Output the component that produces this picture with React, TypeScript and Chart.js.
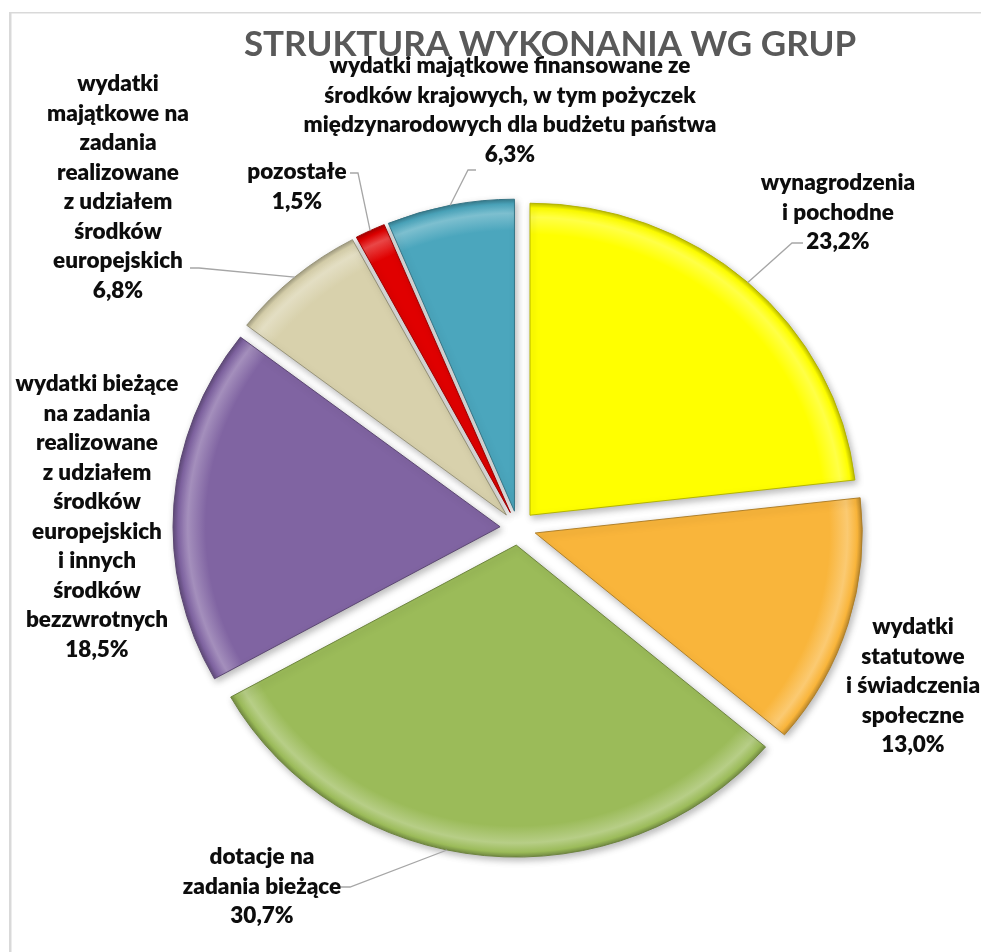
import React, { useEffect, useRef } from 'react';
import { Chart, registerables } from 'chart.js';

Chart.register(...registerables);

// ---------- data ----------
const TITLE = 'STRUKTURA WYKONANIA WG GRUP';

const categories = [
  'wynagrodzenia i pochodne',
  'wydatki statutowe i świadczenia społeczne',
  'dotacje na zadania bieżące',
  'wydatki bieżące na zadania realizowane z udziałem środków europejskich i innych środków bezzwrotnych',
  'wydatki majątkowe na zadania realizowane z udziałem środków europejskich',
  'pozostałe',
  'wydatki majątkowe finansowane ze środków krajowych, w tym pożyczek międzynarodowych dla budżetu państwa',
];

const shares = [23.2, 13.0, 30.7, 18.5, 6.8, 1.5, 6.3];

const labelLines = [
  ['wynagrodzenia', 'i pochodne'],
  ['wydatki', 'statutowe', 'i świadczenia', 'społeczne'],
  ['dotacje na', 'zadania bieżące'],
  ['wydatki bieżące', 'na zadania', 'realizowane', 'z udziałem', 'środków', 'europejskich', 'i innych', 'środków', 'bezzwrotnych'],
  ['wydatki', 'majątkowe na', 'zadania', 'realizowane', 'z udziałem', 'środków', 'europejskich'],
  ['pozostałe'],
  ['wydatki majątkowe finansowane ze', 'środków krajowych, w tym pożyczek', 'międzynarodowych dla budżetu państwa'],
];

// ---------- styles / layout ----------
const sliceColors = ['#FFFF00', '#F9B53B', '#9BBB59', '#8064A2', '#D8D1AC', '#E00000', '#4BA6BD'];

const W = 981;
const H = 952;
const PIE_RADIUS = 327;
const EXPLODE = 18;
const SQUASH = 0.954;
const LINE_H = 29.5;
const LABEL_FONT = '800 22.5px Lato, "Open Sans", sans-serif';
const TITLE_FONT = 'bold 35px Lato, "Open Sans", sans-serif';

type LabelLayout = { x: number; y: number; leader: number[][] | null; t: number };
const labelLayout: LabelLayout[] = [
  { x: 838, y: 183, leader: [[803, 243], [792, 243]], t: 0.5 },
  { x: 913, y: 627, leader: null, t: 0.5 },
  { x: 262, y: 857, leader: [[339, 887], [350, 887]], t: 0.56 },
  { x: 97, y: 384, leader: null, t: 0.5 },
  { x: 118, y: 84, leader: [[190, 268], [199, 268]], t: 0.5 },
  { x: 297, y: 172, leader: [[350, 173], [358, 173]], t: 0.5 },
  { x: 510, y: 66, leader: [[476, 170], [468, 170]], t: 0.5 },
];

const fmtPct = (v: number) => v.toFixed(1).replace('.', ',') + '%';

function shade(hex: string, f: number) {
  const n = parseInt(hex.slice(1), 16);
  const r = (n >> 16) & 255, g = (n >> 8) & 255, b = n & 255;
  const mix = (c: number) => (f >= 0 ? Math.round(c + (255 - c) * f) : Math.round(c * (1 + f)));
  return `rgb(${mix(r)},${mix(g)},${mix(b)})`;
}

const centerOf = (chart: any) => {
  const a = chart.chartArea;
  return { cx: (a.left + a.right) / 2, cy: (a.top + a.bottom) / 2 };
};

// moves every slice outward along its bisector (parallel gaps)
const explodePlugin = {
  id: 'explode',
  afterDatasetUpdate(chart: any, args: any) {
    const meta = chart.getDatasetMeta(args.index);
    meta.data.forEach((arc: any) => {
      if (arc.__exploded) return;
      const orig = arc.draw;
      arc.draw = function (ctx: CanvasRenderingContext2D, area: any) {
        const half = (this.startAngle + this.endAngle) / 2;
        ctx.save();
        ctx.translate(Math.cos(half) * EXPLODE, Math.sin(half) * EXPLODE);
        orig.call(this, ctx, area);
        ctx.restore();
      };
      arc.__exploded = true;
    });
  },
};

const framePlugin = {
  id: 'frame',
  beforeDraw(chart: any) {
    const ctx = chart.ctx;
    ctx.save();
    ctx.fillStyle = '#FFFFFF';
    ctx.fillRect(0, 0, W, H);
    ctx.fillStyle = '#D9D9D9';
    ctx.fillRect(9, 12, W - 9, 1.5);
    ctx.fillRect(9, 12, 2.5, H - 12);
    ctx.restore();
  },
  beforeDatasetsDraw(chart: any) {
    const ctx = chart.ctx;
    const { cx, cy } = centerOf(chart);
    ctx.save();
    ctx.translate(cx, cy);
    ctx.scale(1, SQUASH);
    ctx.translate(-cx, -cy);
    ctx.shadowColor = 'rgba(0,0,0,0.28)';
    ctx.shadowBlur = 7;
    ctx.shadowOffsetX = 2;
    ctx.shadowOffsetY = 3;
  },
  afterDatasetsDraw(chart: any) {
    chart.ctx.restore();
  },
};

const labelsPlugin = {
  id: 'sliceLabels',
  afterDraw(chart: any) {
    const ctx = chart.ctx;
    const { cy } = centerOf(chart);
    const meta = chart.getDatasetMeta(0);
    ctx.save();
    ctx.textAlign = 'center';
    ctx.textBaseline = 'middle';
    ctx.font = TITLE_FONT;
    ctx.fillStyle = '#595959';
    ctx.fillText(TITLE, 550, 45);

    ctx.strokeStyle = '#A6A6A6';
    ctx.lineWidth = 1.3;
    labelLayout.forEach((L, i) => {
      if (!L.leader) return;
      const arc: any = meta.data[i];
      const a = arc.startAngle + (arc.endAngle - arc.startAngle) * L.t;
      const half = (arc.startAngle + arc.endAngle) / 2;
      const px = arc.x + Math.cos(half) * EXPLODE + arc.outerRadius * Math.cos(a);
      const pyRaw = arc.y + Math.sin(half) * EXPLODE + arc.outerRadius * Math.sin(a);
      const py = cy + (pyRaw - cy) * SQUASH;
      ctx.beginPath();
      ctx.moveTo(L.leader[0][0], L.leader[0][1]);
      ctx.lineTo(L.leader[1][0], L.leader[1][1]);
      ctx.lineTo(px, py);
      ctx.stroke();
    });

    ctx.font = LABEL_FONT;
    ctx.fillStyle = '#0D0D0D';
    labelLayout.forEach((L, i) => {
      const lines = [...labelLines[i], fmtPct(shares[i])];
      lines.forEach((s, k) => ctx.fillText(s, L.x, L.y + k * LINE_H));
    });
    ctx.restore();
  },
};

export default function App() {
  const ref = useRef<HTMLCanvasElement | null>(null);

  useEffect(() => {
    if (!ref.current) return;
    const bg = (c: any) => {
      const chart = c.chart;
      const base = sliceColors[c.dataIndex];
      if (!chart.chartArea) return base;
      const { cx, cy } = centerOf(chart);
      const g = chart.ctx.createRadialGradient(cx, cy, 0, cx, cy, PIE_RADIUS);
      g.addColorStop(0, base);
      g.addColorStop(0.9, base);
      g.addColorStop(0.955, shade(base, 0.28));
      g.addColorStop(0.985, base);
      g.addColorStop(1, shade(base, -0.25));
      return g;
    };
    const chart = new Chart(ref.current, {
      type: 'pie',
      data: {
        labels: categories,
        datasets: [
          {
            data: shares,
            backgroundColor: bg,
            borderColor: sliceColors.map((c) => shade(c, -0.3)),
            borderWidth: 1,
          },
        ],
      },
      options: {
        animation: false,
        responsive: false,
        devicePixelRatio: 1,
        radius: PIE_RADIUS,
        layout: { padding: { left: 55, right: 0, top: 104, bottom: 0 } },
        events: [],
        plugins: {
          legend: { display: false },
          tooltip: { enabled: false },
        },
      } as any,
      plugins: [explodePlugin, framePlugin, labelsPlugin],
    });
    if ((document as any).fonts && (document as any).fonts.load) {
      Promise.all([
        (document as any).fonts.load(LABEL_FONT),
        (document as any).fonts.load(TITLE_FONT),
      ])
        .then(() => {
          if ((chart as any).ctx) chart.draw();
        })
        .catch(() => {});
    }
    return () => chart.destroy();
  }, []);

  return (
    <div style={{ position: 'absolute', left: 0, top: 0, width: W, height: H }}>
      <canvas ref={ref} width={W} height={H} style={{ display: 'block' }} />
    </div>
  );
}
